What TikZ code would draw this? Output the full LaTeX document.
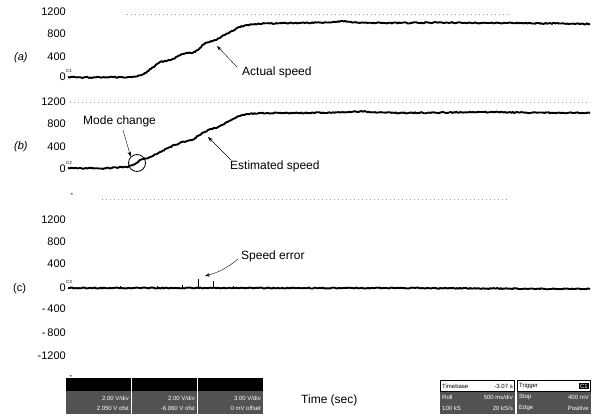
\documentclass[tikz,border=0pt]{standalone}
\usepackage{fontspec}
\setmainfont{Liberation Sans}
\usetikzlibrary{arrows.meta,decorations.pathmorphing,positioning}
\tikzset{
    >={Stealth[length=5pt,width=3.5pt]},
    trace/.style={line width=1.9pt,line join=round,decorate,decoration={random steps,segment length=1.5pt,amplitude=0.6pt}},
    spike/.style={line width=0.8pt},
    tick/.style={left,inner sep=0pt,font=\fontsize{11}{12}\selectfont},
    lbl/.style={right,inner sep=0pt,font=\fontsize{12}{13}\selectfont},
    chan/.style={inner sep=0pt,font=\fontsize{11}{12}\selectfont},
    grid/.style={black!40,line width=0.6pt,dash pattern=on 1pt off 3pt},
    mini/.style={inner sep=0pt,font=\fontsize{6}{7}\selectfont},
    ref/.style={inner sep=0pt,font=\fontsize{4.5}{5}\selectfont}
}
\newcommand{\halftone}{black!68}

\begin{document}
\begin{tikzpicture}[x=1pt,y=-1pt]
    \useasboundingbox (0,0) rectangle (592,418);
    \pgfmathsetseed{4711}

    % panel (a)
    \node[chan,right,font=\fontsize{11}{12}\selectfont\itshape] (tagA) at (14,58) {(a)};
    \foreach \v/\y [count=\i] in {1200/12,800/34,400/57,0/77}
        \node[tick] (a\i) at (66,\y) {\v};
    \node[ref,anchor=south west] (refA) at (a4.north east) {C1};
    \draw[grid] (127,14) -- (510,14);
    \draw[trace] plot coordinates {(68,77) (90,77.5) (110,77) (125,77.5) (138,76) (144,74) (150,69) (155,66) (160,62) (166,61) (171,60) (176,57) (182,54) (188,53) (195,52) (200,48) (205,43) (211,41) (216,40) (221,37) (226,34) (232,31) (239,27) (247,25) (255,24) (270,23.5) (300,23) (330,22.5) (345,21) (360,23) (400,23) (440,22.5) (480,23) (520,23) (560,23.5) (590,24)};
    \node[lbl] (actual) at (242,72) {Actual speed};
    \coordinate (actualTail) at (237,67);
    \coordinate (actualTip) at (217,46);
    \draw[->] (actualTail) -- (actualTip);

    % panel (b)
    \node[chan,right,font=\fontsize{11}{12}\selectfont\itshape] (tagB) at (14,147) {(b)};
    \foreach \v/\y [count=\i] in {1200/102,800/124,400/147,0/169}
        \node[tick] (b\i) at (66,\y) {\v};
    \node[ref,anchor=south west] (refB) at (b4.north east) {C2};
    \draw[grid] (70,102) -- (590,102);
    \draw[trace] plot coordinates {(68,168) (100,168.5) (128,167) (135,164) (140,160) (150,157) (160,152) (170,147) (182,142) (192,140) (200,135) (208,130) (218,127) (227,122) (233,119) (240,116) (247,114) (267,113) (300,113) (340,112.5) (360,111.5) (400,113) (440,112.5) (480,112) (520,112.5) (590,113)};
    \node[draw,circle,line width=0.8pt,minimum size=17pt,inner sep=0pt] (modeRing) at (137,163) {};
    \node[lbl] (mode) at (83,121) {Mode change};
    \coordinate (modeTail) at (123,130);
    \draw[->] (modeTail) -- (modeRing.north west);
    \node[lbl] (est) at (230,166) {Estimated speed};
    \coordinate (estTail) at (231,160);
    \coordinate (estTip) at (208,137);
    \draw[->] (estTail) -- (estTip);
    \draw[grid] (102,199) -- (510,199);
    \node[ref] (markB) at (72,194) {$\ast$};

    % panel (c)
    \node[chan,right] (tagC) at (13,289) {(c)};
    \foreach \v/\y [count=\i] in {1200/220,800/242,400/264,0/288,-\,400/309,-\,800/333,-1200/356}
        \node[tick] (c\i) at (66,\y) {\v};
    \node[ref,anchor=south west] (refC) at (c4.north east) {C3};
    \draw[trace,decoration={amplitude=0.5pt}] (68,288) -- (400,288) -- (590,289);
    \foreach \x/\h in {120/2,157/2,182/3,198/9,213/7,233/2}
        \draw[spike] (\x,288) -- ++(0,-\h);
    \node[lbl] (err) at (241,256) {Speed error};
    \coordinate (errTail) at (238,259);
    \coordinate (errTip) at (205,276);
    \draw[->] (errTail) to[bend left=12] (errTip);

    % channel boxes
    \node[ref] (markC) at (71,376) {$\ast$};
    \foreach \x/\va/\vb [count=\i] in {66/{2.00 V/div}/{2.050 V ofst},132/{2.00 V/div}/{-6.060 V ofst},198/{3.00 V/div}/{0 mV offset}} {
        \fill[black] (\x,378) rectangle ++(65,13);
        \fill[\halftone] (\x,391) rectangle ++(65,23);
        \node[mini,white,anchor=east] (chA\i) at (\x+63,398) {\va};
        \node[mini,white,anchor=east] (chB\i) at (\x+63,408) {\vb};
    }

    \node[lbl] (time) at (301,400) {Time (sec)};

    % timebase and trigger
    \fill[\halftone] (440,391) rectangle (515,414);
    \draw[fill=white] (440.5,380.5) rectangle (514.5,391);
    \node[mini,anchor=west] (tb) at (442,386) {Timebase};
    \node[mini,anchor=east] (tbVal) at (513,386) {-3.07 s};
    \node[mini,white,anchor=west] (roll) at (442,397) {Roll};
    \node[mini,white,anchor=east] (rollVal) at (513,397) {500 ms/div};
    \node[mini,white,anchor=west] (samp) at (442,408) {100 kS};
    \node[mini,white,anchor=east] (sampVal) at (513,408) {20 kS/s};

    \fill[\halftone] (517,391) rectangle (591,414);
    \draw[fill=white] (517.5,380.5) rectangle (590.5,391);
    \node[mini,anchor=west] (trig) at (519,386) {Trigger};
    \node[mini,white,fill=black,inner sep=1pt,anchor=east] (trigSrc) at (589,386) {C1};
    \node[mini,white,anchor=west] (stop) at (519,397) {Stop};
    \node[mini,white,anchor=east] (stopVal) at (589,397) {400 mV};
    \node[mini,white,anchor=west] (edge) at (519,408) {Edge};
    \node[mini,white,anchor=east] (edgeVal) at (589,408) {Positive};
\end{tikzpicture}
\end{document}
